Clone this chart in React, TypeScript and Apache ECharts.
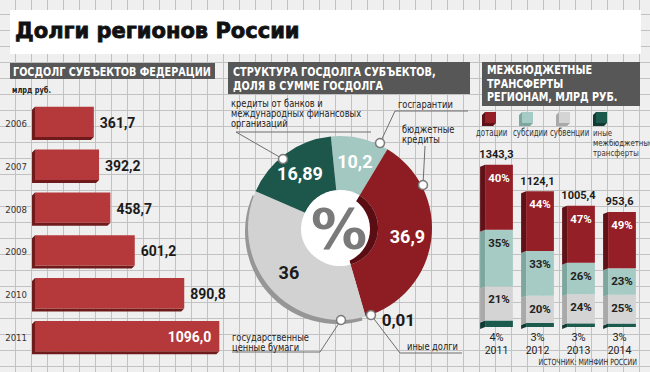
import React, { useEffect, useRef } from 'react';
import * as echarts from 'echarts';

// ---------- data ----------
const debtYears = ['2006', '2007', '2008', '2009', '2010', '2011'];
const debtValues = [361.7, 392.2, 458.7, 601.2, 890.8, 1096.0];

const structNames = [
  'госгарантии',
  'бюджетные\nкредиты',
  'иные долги',
  'государственные\nценные бумаги',
  'кредиты от банков и\nмеждународных финансовых\nорганизаций',
];
const structValues = [10.2, 36.9, 0.01, 36, 16.89];

const transferYears = ['2011', '2012', '2013', '2014'];
const transferTotals = [1343.3, 1124.1, 1005.4, 953.6];
const transferNames = ['дотации', 'субсидии', 'субвенции', 'иные\nмежбюджетные\nтрансферты'];
const dotacii = [40, 44, 47, 49];
const subsidii = [35, 33, 26, 23];
const subvencii = [21, 20, 24, 25];
const inye = [4, 3, 3, 3];

// ---------- styling ----------
const NARROW = "'DejaVu Sans Condensed', 'Liberation Sans', sans-serif";
const BOLDF = "Roboto, 'DejaVu Sans', sans-serif";
const HEADER = '#575757';

const fmt1 = (v: number) => v.toFixed(1).replace('.', ',');
const fmtN = (v: number) => String(v).replace('.', ',');

const structColors = ['#a3c7c1', '#8d1c23', '#1d574c', '#d2d2d2', '#1d574c'];

function buildOption() {
  const debtMax = Math.max(...debtValues);

  const leftSeries: any = {
    type: 'custom',
    name: 'Госдолг субъектов федерации',
    xAxisIndex: 0,
    yAxisIndex: 0,
    encode: { x: 0, y: 1 },
    data: debtValues.map((v, i) => [v, i]),
    renderItem: (params: any, api: any) => {
      const v = api.value(0);
      const idx = api.value(1);
      const p0 = api.coord([0, idx]);
      const p1 = api.coord([v, idx]);
      const band = api.size([0, 1])[1];
      const h = band * 0.78;
      const d = 3;
      const x0 = p0[0];
      const x1 = p1[0];
      const yT = p0[1] - h / 2;
      const yB = p0[1] + h / 2;
      const inside = v >= debtMax * 0.95;
      const cy = (yT + yB - d) / 2 + 1;
      return {
        type: 'group',
        children: [
          {
            type: 'polygon',
            shape: { points: [[x0, yT + d], [x0 + d, yT], [x0 + d, yB - d], [x1, yB - d], [x1 - d, yB], [x0, yB]] },
            style: { fill: '#6f1b1c' },
          },
          {
            type: 'rect',
            shape: { x: x0 + d, y: yT, width: x1 - x0 - d, height: h - d },
            style: { fill: '#b5383a' },
          },
          {
            type: 'text',
            style: {
              text: fmt1(v),
              x: inside ? x1 - 8 : x1 + 6,
              y: cy,
              fill: inside ? '#ffffff' : '#1b1b1b',
              fontSize: 14,
              fontWeight: 'bold',
              fontFamily: BOLDF,
              align: inside ? 'right' : 'left',
              textAlign: inside ? 'right' : 'left',
              verticalAlign: 'middle',
              textVerticalAlign: 'middle',
            },
          },
        ],
      };
    },
  };

  const layers = [
    { name: transferNames[3], pct: inye, color: '#1d5a4e', side: '#0f3b33', labelColor: '' },
    { name: transferNames[2], pct: subvencii, color: '#d4d4d4', side: '#a9a9a9', labelColor: '#222222' },
    { name: transferNames[1], pct: subsidii, color: '#a6cbc4', side: '#7da69f', labelColor: '#222222' },
    { name: transferNames[0], pct: dotacii, color: '#951f27', side: '#5f1118', labelColor: '#ffffff' },
  ];

  const cum = transferTotals.map(() => 0);
  const rightSeries = layers.map((L, li) => {
    const data = transferYears.map((_, i) => {
      const b = cum[i];
      const t = b + (transferTotals[i] * L.pct[i]) / 100;
      cum[i] = t;
      return [i, b, t, L.pct[i]];
    });
    return {
      type: 'custom',
      name: L.name.replace(/\n/g, ' '),
      xAxisIndex: 1,
      yAxisIndex: 1,
      encode: { x: 0, y: [1, 2] },
      data,
      renderItem: (params: any, api: any) => {
        const c = api.value(0);
        const b = api.value(1);
        const t = api.value(2);
        const pct = api.value(3);
        const pb = api.coord([c, b]);
        const pt = api.coord([c, t]);
        const bw = api.size([1, 0])[0] * 0.8;
        const x0 = pb[0] - bw / 2;
        const x1 = pb[0] + bw / 2;
        const s = 5;
        const sl = 2;
        const children: any[] = [
          {
            type: 'polygon',
            shape: { points: [[x0, pt[1] + sl], [x0 + s, pt[1]], [x0 + s, pb[1]], [x0, pb[1] + sl]] },
            style: { fill: L.side },
          },
          {
            type: 'rect',
            shape: { x: x0 + s, y: pt[1], width: x1 - x0 - s, height: pb[1] - pt[1] },
            style: { fill: L.color },
          },
        ];
        if (L.labelColor) {
          children.push({
            type: 'text',
            style: {
              text: pct + '%',
              x: x0 + s + (x1 - x0 - s) / 2,
              y: pt[1] + 13,
              fill: L.labelColor,
              fontSize: 11.5,
              fontWeight: 'bold',
              fontFamily: BOLDF,
              align: 'center',
              textAlign: 'center',
              verticalAlign: 'middle',
              textVerticalAlign: 'middle',
            },
          });
        }
        if (li === layers.length - 1) {
          children.push({
            type: 'text',
            style: {
              text: fmt1(transferTotals[c]),
              x: pb[0],
              y: pt[1] - 10,
              fill: '#1b1b1b',
              fontSize: 11,
              fontWeight: 'bold',
              fontFamily: BOLDF,
              align: 'center',
              textAlign: 'center',
              verticalAlign: 'middle',
              textVerticalAlign: 'middle',
            },
          });
        }
        return { type: 'group', children };
      },
    };
  });

  const pieCenter = [340, 228];
  const pieStart = 95.7;
  const pieData = structValues.map((v, i) => {
    const item: any = {
      name: structNames[i].replace(/\n/g, ' '),
      value: v,
      itemStyle: { color: structColors[i] },
      label: { color: i === 3 ? '#1b1b1b' : '#ffffff' },
    };
    if (v < 1) {
      item.label = { position: 'outside', color: '#1b1b1b', fontSize: 17 };
      item.labelLine = { show: false, length: 4, length2: 10 };
    }
    return item;
  });

  const shadowPie: any = {
    type: 'pie',
    silent: true,
    z: 1,
    center: [pieCenter[0] - 3, pieCenter[1] + 4],
    radius: [38, 92],
    startAngle: pieStart,
    label: { show: false },
    labelLine: { show: false },
    data: structValues.map((v, i) => ({ value: v, name: 's' + i, itemStyle: { color: i === 3 ? '#969696' : 'rgba(0,0,0,0)' } })),
  };

  const mainPie: any = {
    type: 'pie',
    name: 'Структура госдолга субъектов',
    z: 2,
    center: pieCenter,
    radius: [38, 92],
    startAngle: pieStart,
    clockwise: true,
    avoidLabelOverlap: false,
    label: {
      show: true,
      position: 'inside',
      fontSize: 18,
      fontWeight: 'bold',
      fontFamily: BOLDF,
      formatter: (p: any) => fmtN(p.value),
    },
    labelLine: { show: false },
    emphasis: { disabled: true },
    data: pieData,
  };

  const innerPie: any = {
    type: 'pie',
    silent: true,
    z: 3,
    center: pieCenter,
    radius: [0, 38],
    startAngle: pieStart,
    label: { show: false },
    labelLine: { show: false },
    data: structValues.map((v, i) => ({ value: v, name: 'i' + i, itemStyle: { color: i === 1 ? '#5a0d13' : '#ffffff' } })),
  };

  // ---------- graphic ----------
  const txt = (text: string, x: number, y: number, o: any = {}) => ({
    type: 'text',
    z: o.z ?? 10,
    x,
    y,
    scaleX: o.sx ?? 1,
    style: {
      text,
      x: 0,
      y: 0,
      fill: o.fill ?? '#222222',
      fontSize: o.size ?? 10,
      fontWeight: o.weight ?? 'normal',
      fontFamily: o.family ?? NARROW,
      align: o.align ?? 'left',
      textAlign: o.align ?? 'left',
      verticalAlign: o.va ?? 'middle',
      textVerticalAlign: o.va ?? 'middle',
      lineHeight: o.lh ?? undefined,
      stroke: o.stroke ?? undefined,
      lineWidth: o.lw ?? 0,
    },
  });

  const graphics: any[] = [];
  // title
  graphics.push({ type: 'rect', z: 0, shape: { x: 10, y: 10, width: 631, height: 44 }, style: { fill: '#ffffff' } });
  graphics.push(
    txt('Долги регионов России', 15, 31, {
      size: 21,
      weight: 'bold',
      family: "'DejaVu Sans', sans-serif",
      fill: '#111111',
      stroke: '#111111',
      lw: 0.8,
    })
  );

  // headers
  const hdr = { size: 12.5, weight: 'bold', fill: '#ffffff', sx: 0.86 };
  graphics.push({ type: 'rect', z: 0, shape: { x: 10, y: 63, width: 205, height: 16 }, style: { fill: HEADER } });
  graphics.push(txt('ГОСДОЛГ СУБЪЕКТОВ ФЕДЕРАЦИИ', 13, 71.5, hdr));
  graphics.push({ type: 'rect', z: 0, shape: { x: 228, y: 62, width: 242, height: 32 }, style: { fill: HEADER } });
  graphics.push(txt('СТРУКТУРА ГОСДОЛГА СУБЪЕКТОВ,', 233, 72, hdr));
  graphics.push(txt('ДОЛЯ В СУММЕ ГОСДОЛГА', 233, 86, hdr));
  graphics.push({ type: 'rect', z: 0, shape: { x: 482, y: 62, width: 158, height: 44 }, style: { fill: HEADER } });
  graphics.push(txt('МЕЖБЮДЖЕТНЫЕ', 487, 70, hdr));
  graphics.push(txt('ТРАНСФЕРТЫ', 487, 83.5, hdr));
  graphics.push(txt('РЕГИОНАМ, МЛРД РУБ.', 487, 97, hdr));

  graphics.push(txt('млрд руб.', 12, 90, { size: 9, weight: 'bold', sx: 0.82 }));

  // donut hole & percent sign
  graphics.push({ type: 'circle', z: 4, shape: { cx: 335.5, cy: 229, r: 34.5 }, style: { fill: '#ffffff' } });
  graphics.push(txt('%', 339, 228, { size: 56, weight: 'bold', family: "'DejaVu Sans', sans-serif", fill: '#7a7a7a', align: 'center', z: 5 }));

  // callouts
  const lineStyle = { stroke: '#6e6e6e', lineWidth: 1, fill: 'none' };
  const callouts = [
    { c: [380, 143], pts: [[380, 143], [395, 111], [468, 111]], tx: 398, ty: 104 },
    { c: [423, 185], pts: [[423, 185], [425, 146]], tx: 402, ty: 124 },
    { c: [371, 315], pts: [[371, 315], [400, 353], [462, 353]], tx: 407, ty: 346 },
    { c: [341, 320], pts: [[341, 320], [320, 352], [232, 352]], tx: 232, ty: 332 },
    { c: [283, 159], pts: [[283, 159], [236, 132], [371, 132]], tx: 231, ty: 98 },
  ];
  callouts.forEach((co, i) => {
    graphics.push({ type: 'polyline', z: 9, shape: { points: co.pts }, style: lineStyle });
    graphics.push({
      type: 'circle',
      z: 10,
      shape: { cx: co.c[0], cy: co.c[1], r: 4.5 },
      style: { fill: '#ffffff', stroke: '#7a7a7a', lineWidth: 1.5 },
    });
    const multi = structNames[i].indexOf('\n') >= 0;
    graphics.push(txt(structNames[i], co.tx, co.ty, { size: 10.5, va: multi ? 'top' : 'middle', lh: 10, sx: 0.88 }));
  });

  // legend cubes
  layers
    .slice()
    .reverse()
    .forEach((L, i) => {
      const x = 482 + i * 37;
      const y = 112;
      graphics.push({
        type: 'polygon',
        z: 10,
        shape: { points: [[x, y + 3], [x + 3, y], [x + 3, y + 11], [x + 14, y + 11], [x + 11, y + 14], [x, y + 14]] },
        style: { fill: L.side },
      });
      graphics.push({ type: 'rect', z: 10, shape: { x: x + 3, y, width: 11, height: 11 }, style: { fill: L.color } });
      const last = i === 3;
      const tx = last ? x : x - 6;
      graphics.push(txt(L.name, tx, 128, { size: last ? 8.5 : 10, va: 'top', lh: 10, fill: '#333333', sx: last ? 0.92 : 0.78 }));
    });

  graphics.push(txt('ИСТОЧНИК: МИНФИН РОССИИ', 637, 362, { size: 8.5, align: 'right', sx: 0.82 }));

  return {
    animation: false,
    grid: [
      { left: 32, top: 102, width: 188, height: 257 },
      { left: 476, top: 158, width: 164, height: 169 },
    ],
    xAxis: [
      { type: 'value', gridIndex: 0, min: 0, max: 1100, show: false },
      {
        type: 'category',
        gridIndex: 1,
        data: transferYears,
        axisLine: { show: false },
        axisTick: { show: false },
        axisLabel: {
          interval: 0,
          margin: 4,
          formatter: (val: string, idx: number) => `{p|${inye[idx]}%}\n{y|${val}}`,
          rich: {
            p: { fontSize: 11, fontFamily: BOLDF, color: '#222222', lineHeight: 13 },
            y: { fontSize: 10.5, fontFamily: BOLDF, color: '#222222', lineHeight: 13 },
          },
        },
      },
    ],
    yAxis: [
      {
        type: 'category',
        gridIndex: 0,
        data: debtYears,
        inverse: true,
        axisLine: { show: false },
        axisTick: { show: false },
        splitLine: { show: false },
        axisLabel: { margin: 5, fontSize: 9.5, fontFamily: NARROW, color: '#333333', padding: [0, 0, 12, 0] },
      },
      { type: 'value', gridIndex: 1, min: 0, max: 1400, show: false },
    ],
    graphic: { elements: graphics },
    series: [leftSeries, ...rightSeries, shadowPie, mainPie, innerPie],
  };
}

export default function App() {
  const ref = useRef<HTMLDivElement>(null);
  useEffect(() => {
    if (!ref.current) return;
    const chart = echarts.init(ref.current, null, { renderer: 'svg' });
    chart.setOption(buildOption() as any);
    return () => chart.dispose();
  }, []);
  return (
    <div
      ref={ref}
      style={{
        position: 'fixed',
        left: 0,
        top: 0,
        width: 650,
        height: 372,
        backgroundColor: '#efefef',
        backgroundImage:
          'linear-gradient(to right, #c2c2c2 1px, transparent 1px), linear-gradient(to bottom, #c2c2c2 1px, transparent 1px)',
        backgroundSize: '16px 16px',
        backgroundPosition: '15px 14px',
      }}
    />
  );
}
